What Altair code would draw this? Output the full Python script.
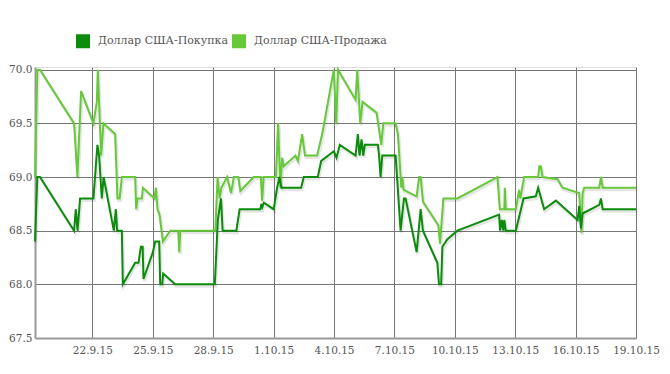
import altair as alt
import pandas as pd

SERIES = ["Доллар США-Покупка", "Доллар США-Продажа"]
COLORS = ["#0b8c0b", "#66c93a"]

buy_times = [
    "2015-09-19T03:35", "2015-09-19T06:20", "2015-09-19T09:33", "2015-09-21T02:10", "2015-09-21T04:10",
    "2015-09-21T06:20", "2015-09-21T09:19", "2015-09-22T01:12", "2015-09-22T05:58", "2015-09-22T08:00",
    "2015-09-22T11:13", "2015-09-22T13:22", "2015-09-23T01:33", "2015-09-23T03:56", "2015-09-23T05:30",
    "2015-09-23T11:07", "2015-09-23T12:17", "2015-09-24T02:59", "2015-09-24T06:56", "2015-09-24T09:48",
    "2015-09-24T11:57", "2015-09-24T12:53", "2015-09-25T00:07", "2015-09-25T02:52", "2015-09-25T07:38",
    "2015-09-25T08:50", "2015-09-25T11:14", "2015-09-25T12:25", "2015-09-26T02:44", "2015-09-28T01:55",
    "2015-09-28T05:30", "2015-09-28T09:19", "2015-09-28T11:14", "2015-09-29T03:35", "2015-09-29T07:31",
    "2015-09-30T08:14", "2015-09-30T09:26", "2015-09-30T10:38", "2015-09-30T12:24", "2015-10-01T00:07",
    "2015-10-01T04:10", "2015-10-01T06:56", "2015-10-01T09:19", "2015-10-02T08:50", "2015-10-02T11:57",
    "2015-10-03T04:39", "2015-10-03T08:43", "2015-10-03T23:46", "2015-10-04T02:59", "2015-10-04T06:56",
    "2015-10-05T01:41", "2015-10-05T04:25", "2015-10-05T06:27", "2015-10-05T08:50", "2015-10-05T10:52",
    "2015-10-05T12:46", "2015-10-06T04:18", "2015-10-06T05:44", "2015-10-06T07:31", "2015-10-06T09:33",
    "2015-10-07T01:26", "2015-10-07T07:23", "2015-10-07T11:21", "2015-10-07T13:22", "2015-10-08T02:30",
    "2015-10-08T07:16", "2015-10-08T10:02", "2015-10-09T03:13", "2015-10-09T05:08", "2015-10-09T07:45",
    "2015-10-09T09:11", "2015-10-09T15:10", "2015-10-10T03:06", "2015-10-12T04:47", "2015-10-12T05:58",
    "2015-10-12T08:00", "2015-10-12T09:47", "2015-10-12T11:00", "2015-10-12T12:46", "2015-10-13T00:43",
    "2015-10-13T09:55", "2015-10-14T00:36", "2015-10-14T03:20", "2015-10-14T10:31", "2015-10-15T00:29",
    "2015-10-16T02:24", "2015-10-16T04:18", "2015-10-16T06:20", "2015-10-16T08:21", "2015-10-17T04:10",
    "2015-10-17T06:13", "2015-10-17T08:14", "2015-10-19T00:00",
]
buy_values = [
    68.40, 69.0, 69.0, 68.5, 68.7, 68.5, 68.8, 68.8, 69.3, 69.2,
    68.8, 69.0, 68.5, 68.7, 68.5, 68.5, 68.0, 68.2, 68.2, 68.35,
    68.35, 68.05, 68.3, 68.4, 68.4, 68.0, 68.0, 68.1, 68.0, 68.0,
    68.6, 68.8, 68.5, 68.5, 68.7, 68.7, 68.75, 68.72, 68.76, 68.7,
    68.9, 69.0, 68.9, 68.9, 69.0, 69.0, 69.15, 69.24, 69.18, 69.3,
    69.2, 69.4, 69.2, 69.35, 69.2, 69.3, 69.3, 69.2, 69.0, 69.2,
    69.2, 68.5, 68.8, 68.8, 68.3, 68.7, 68.5, 68.2, 68.0, 68.0,
    68.35, 68.42, 68.5, 68.65, 68.5, 68.6, 68.5, 68.6, 68.5, 68.5,
    68.8, 68.82, 68.9, 68.7, 68.78, 68.6, 68.73, 68.52, 68.66, 68.74,
    68.8, 68.7, 68.7,
]

sell_times = [
    "2015-09-19T03:35", "2015-09-19T06:20", "2015-09-19T09:33", "2015-09-21T02:10", "2015-09-21T06:06",
    "2015-09-21T10:31", "2015-09-22T01:12", "2015-09-22T05:15", "2015-09-22T06:27", "2015-09-22T10:23",
    "2015-09-22T13:08", "2015-09-23T03:06", "2015-09-23T05:51", "2015-09-23T08:28", "2015-09-23T11:07",
    "2015-09-24T02:59", "2015-09-24T04:10", "2015-09-24T05:44", "2015-09-24T10:59", "2015-09-24T12:10",
    "2015-09-25T02:02", "2015-09-25T03:42", "2015-09-25T05:37", "2015-09-25T08:00", "2015-09-25T12:03",
    "2015-09-25T20:47", "2015-09-26T06:20", "2015-09-26T07:31", "2015-09-26T08:43", "2015-09-28T02:30",
    "2015-09-28T05:15", "2015-09-28T07:38", "2015-09-28T09:40", "2015-09-28T16:29", "2015-09-28T21:16",
    "2015-09-29T00:36", "2015-09-29T05:58", "2015-09-29T08:21", "2015-09-30T00:14", "2015-09-30T08:50",
    "2015-09-30T10:16", "2015-09-30T12:10", "2015-10-01T02:44", "2015-10-01T05:22", "2015-10-01T08:07",
    "2015-10-01T10:09", "2015-10-01T12:03", "2015-10-02T02:02", "2015-10-02T05:01", "2015-10-02T10:02",
    "2015-10-02T13:22", "2015-10-03T03:56", "2015-10-03T09:55", "2015-10-03T23:46", "2015-10-04T02:37",
    "2015-10-04T04:47", "2015-10-05T01:41", "2015-10-05T03:42", "2015-10-05T07:16", "2015-10-05T10:02",
    "2015-10-06T02:44", "2015-10-06T08:21", "2015-10-06T10:45", "2015-10-07T01:26", "2015-10-07T04:10",
    "2015-10-07T08:14", "2015-10-07T09:26", "2015-10-07T10:59", "2015-10-08T02:30", "2015-10-08T05:30",
    "2015-10-08T07:16", "2015-10-08T10:02", "2015-10-09T04:25", "2015-10-09T06:20", "2015-10-09T10:23",
    "2015-10-10T03:06", "2015-10-12T02:52", "2015-10-12T05:37", "2015-10-12T11:00", "2015-10-12T11:35",
    "2015-10-12T12:46", "2015-10-13T00:43", "2015-10-13T04:39", "2015-10-13T06:06", "2015-10-13T10:38",
    "2015-10-14T03:20", "2015-10-14T04:47", "2015-10-14T06:35", "2015-10-14T08:35", "2015-10-15T02:30",
    "2015-10-15T08:28", "2015-10-16T04:18", "2015-10-16T06:56", "2015-10-16T08:21", "2015-10-16T10:16",
    "2015-10-17T04:10", "2015-10-17T06:13", "2015-10-17T08:14", "2015-10-19T00:00",
]
sell_values = [
    69.0, 70.0, 70.0, 69.5, 69.0, 69.8, 69.5, 69.7, 70.0, 69.2,
    69.5, 69.4, 68.8, 68.8, 69.0, 69.0, 68.7, 68.8, 68.8, 68.9,
    68.8, 68.9, 68.7, 68.65, 68.4, 68.5, 68.5, 68.3, 68.5, 68.5,
    69.0, 68.8, 68.9, 69.0, 68.85, 69.0, 69.0, 68.87, 69.0, 69.0,
    68.78, 69.0, 69.0, 69.5, 68.9, 69.18, 69.1, 69.2, 69.15, 69.4,
    69.2, 69.2, 69.4, 70.0, 69.5, 70.0, 69.72, 70.0, 69.5, 69.7,
    69.6, 69.3, 69.5, 69.5, 69.4, 68.9, 69.0, 68.88, 68.82, 69.0,
    69.0, 68.77, 68.55, 68.38, 68.8, 68.8, 69.0, 68.7, 68.7, 68.9,
    68.7, 68.7, 68.88, 68.8, 69.0, 69.0, 69.1, 69.1, 69.0, 68.98,
    68.9, 68.85, 68.48, 68.85, 68.9, 68.9, 69.0, 68.9, 68.9,
]

tick_dates = [(2015, 9, 22), (2015, 9, 25), (2015, 9, 28), (2015, 10, 1), (2015, 10, 4),
              (2015, 10, 7), (2015, 10, 10), (2015, 10, 13), (2015, 10, 16), (2015, 10, 19)]
y_ticks = [67.5, 68.0, 68.5, 69.0, 69.5, 70.0]

df = pd.concat([
    pd.DataFrame({"t": sell_times, "v": sell_values, "s": SERIES[1]}),
    pd.DataFrame({"t": buy_times, "v": buy_values, "s": SERIES[0]}),
], ignore_index=True)

FONT = "DejaVu Serif"

x_enc = alt.X(
    "t:T",
    scale=alt.Scale(domain=[alt.DateTime(year=2015, month=9, date=19, hours=3, minutes=35),
                            alt.DateTime(year=2015, month=10, date=19)], nice=False),
    axis=alt.Axis(values=[alt.DateTime(year=a, month=b, date=c) for a, b, c in tick_dates],
                  format="%-d.%-m.%y", title=None, ticks=False, labelPadding=7,
                  labelOverlap=False, labelBound=False, labelFlush=False,
                  labelFont=FONT, labelFontSize=10.5, labelColor="#555",
                  domainColor="#999", domainWidth=2, gridColor="#777", gridWidth=1),
)
y_enc = alt.Y(
    "v:Q",
    scale=alt.Scale(domain=[67.5, 70.025], nice=False, zero=False),
    axis=alt.Axis(values=y_ticks, format=".1f", title=None, ticks=False, labelPadding=3,
                  labelOverlap=False, labelFlush=False,
                  labelFont=FONT, labelFontSize=10.5, labelColor="#555",
                  domainColor="#999", domainWidth=2, gridColor="#777", gridWidth=1),
)

base = alt.Chart(df)

shadow = base.mark_line(color="#000000", opacity=0.1, strokeWidth=3, xOffset=1, yOffset=2).encode(
    x=x_enc, y=y_enc, detail="s:N"
)

lines = base.mark_line(strokeWidth=2).encode(
    x=x_enc,
    y=y_enc,
    color=alt.Color(
        "s:N",
        scale=alt.Scale(domain=SERIES, range=COLORS),
        legend=alt.Legend(orient="none", legendX=41, legendY=-33, direction="horizontal",
                          title=None, symbolType="square", symbolSize=49, symbolStrokeWidth=7,
                          labelFont=FONT, labelFontSize=11, labelColor="#555",
                          columnPadding=-7, labelOffset=8),
    ),
)

chart = (
    alt.layer(shadow, lines)
    .properties(width=601, height=271, autosize=alt.AutoSizeParams(type="none"),
                padding={"left": 27, "top": 59, "right": 26, "bottom": 28})
    .configure_view(stroke="#999", strokeWidth=2, fill="#fcf8fc")
    .configure(background="white")
)

chart.save("out.html", embed_options={"renderer": "svg", "actions": False})
